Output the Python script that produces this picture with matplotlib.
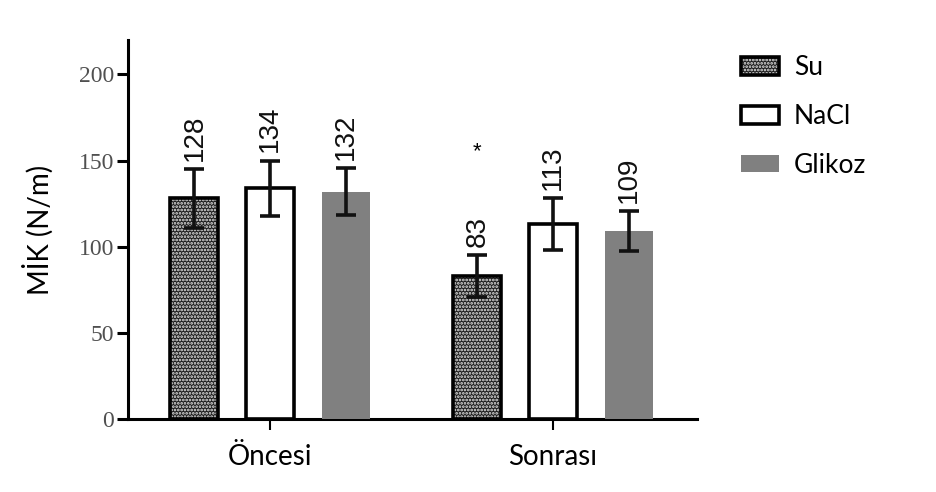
import matplotlib
matplotlib.use("Agg")
import matplotlib.pyplot as plt
import numpy as np
from matplotlib.legend_handler import HandlerTuple

groups = ["Öncesi", "Sonrası"]
series = ["Su", "NaCl", "Glikoz"]
su = [128, 83]
nacl = [134, 113]
glikoz = [132, 109]
su_err = [17, 12]
nacl_err = [16, 15]
glikoz_err = [13.5, 11.5]
star_value = 155

plt.rcParams['hatch.linewidth'] = 1.3

fig = plt.figure(figsize=(9.36, 4.92), dpi=100)
ax = fig.add_axes([0.137, 0.148, 0.608, 0.771])

x = np.arange(len(groups))
width = 0.17
step = 0.268
values = [su, nacl, glikoz]
errors = [su_err, nacl_err, glikoz_err]

handles = []
for i, (vals, errs) in enumerate(zip(values, errors)):
    pos = x + (i - 1) * step
    if i == 0:
        fill = ax.bar(pos, vals, width, color='#1e1e1e', edgecolor='#e8e8e8',
                      linewidth=0, hatch='.....', zorder=2)
        edge = ax.bar(pos, vals, width, color='none', edgecolor='black',
                      linewidth=2.6, zorder=3)
        handles.append((fill, edge))
    elif i == 1:
        b = ax.bar(pos, vals, width, color='white', edgecolor='black',
                   linewidth=2.6, zorder=3)
        handles.append(b)
    else:
        b = ax.bar(pos, vals, width, color='#808080', edgecolor='none',
                   linewidth=0, zorder=3)
        handles.append(b)
    ax.errorbar(pos, vals, yerr=errs, fmt='none', ecolor='#111111',
                elinewidth=2.6, capsize=7.5, capthick=2.6, zorder=4)
    for p, v, e in zip(pos, vals, errs):
        ax.annotate(str(v), (p, v + e), xytext=(0, 6), textcoords='offset points',
                    rotation=90, ha='center', va='bottom', fontsize=20,
                    family='Liberation Sans', color='#111111')

ax.text(x[1] - step, star_value, '*', ha='center', va='center', fontsize=16,
        family='Liberation Sans')

ax.set_xlim(-0.502, 1.51)
ax.set_ylim(0, 220)
ax.set_yticks([0, 50, 100, 150, 200])
ax.set_xticks(x)
ax.set_xticklabels(groups, family='Lato', fontsize=20)
for lbl in ax.get_yticklabels():
    lbl.set_family('Liberation Serif')
    lbl.set_fontsize(17)
    lbl.set_color('#505050')
ax.tick_params(axis='y', length=8, width=2.2, pad=2)
ax.tick_params(axis='x', length=8, width=1.5, pad=10)
ax.spines['top'].set_visible(False)
ax.spines['right'].set_visible(False)
ax.spines['left'].set_linewidth(2.2)
ax.spines['bottom'].set_linewidth(2.2)
ax.set_ylabel('MİK (N/m)', family='Lato', fontsize=20, labelpad=18)

fig.legend(handles, series, handler_map={tuple: HandlerTuple(ndivide=1)},
           loc='upper left', bbox_to_anchor=(0.772, 0.925), frameon=False,
           prop={'family': 'Lato', 'size': 19}, handlelength=1.45, handleheight=0.65,
           labelspacing=0.9, handletextpad=0.55, borderpad=0.2)

fig.savefig('out.png', dpi=100)
